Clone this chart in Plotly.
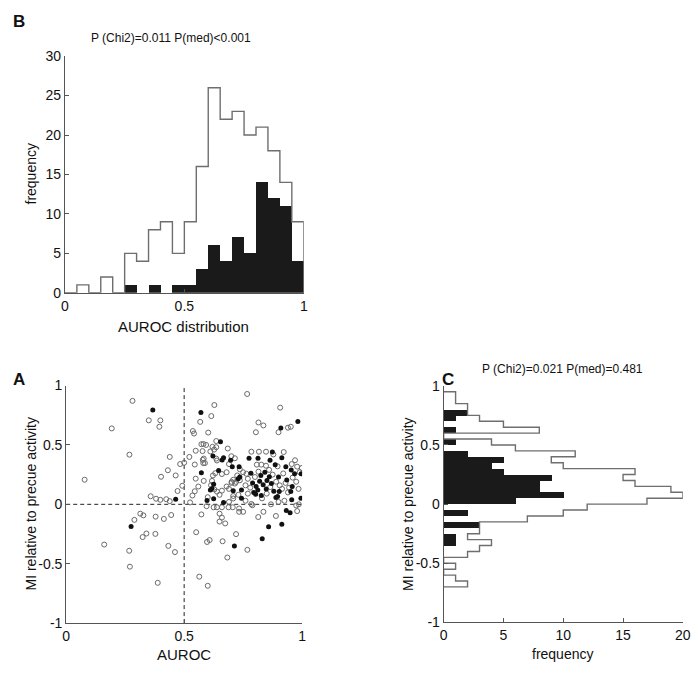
import plotly.graph_objects as go

# ---------------- data ----------------
# Panel B: AUROC histogram (bin centres, all cells, significant cells)
auroc_bin_centers = [0.025, 0.075, 0.125, 0.175, 0.225, 0.275, 0.325, 0.375, 0.425, 0.475,
                     0.525, 0.575, 0.625, 0.675, 0.725, 0.775, 0.825, 0.875, 0.925, 0.975]
auroc_all_counts = [0, 1, 0, 2, 0, 5, 4, 8, 9, 5, 9, 16, 26, 22, 23, 20, 21, 18, 14, 9]
auroc_sig_counts = [0, 0, 0, 0, 0, 1, 0, 1, 0, 1, 1, 3, 6, 4, 7, 5, 14, 12, 11, 4]
auroc_bin_width = 0.05

# Panel C: MI histogram (bin centres, all cells, significant cells)
mi_bin_centers = [-0.675, -0.625, -0.575, -0.525, -0.475, -0.425, -0.375, -0.325, -0.275, -0.225,
                  -0.175, -0.125, -0.075, -0.025, 0.025, 0.075, 0.125, 0.175, 0.225, 0.275,
                  0.325, 0.375, 0.425, 0.475, 0.525, 0.575, 0.625, 0.675, 0.725, 0.775,
                  0.825, 0.875, 0.925]
mi_all_counts = [2, 1, 0, 1, 0, 2, 3, 4, 2, 3, 3, 7, 10, 12, 17, 20, 19, 16, 15, 16,
                 10, 9, 11, 6, 4, 0, 8, 5, 3, 2, 2, 1, 1]
mi_sig_counts = [0, 0, 0, 0, 0, 0, 0, 1, 1, 0, 3, 0, 2, 0, 6, 10, 8, 8, 9, 5,
                 4, 5, 2, 0, 1, 0, 1, 0, 1, 2, 0, 0, 0]
mi_bin_width = 0.05

# Panel A: scatter (AUROC vs MI), non-significant (open) and significant (filled)
open_auroc = [0.281, 0.350, 0.399, 0.395, 0.193, 0.268, 0.439, 0.483, 0.500, 0.431, 0.464, 0.402,
              0.078, 0.492, 0.472, 0.358, 0.381, 0.399, 0.424, 0.439, 0.314, 0.327, 0.379, 0.445,
              0.414, 0.289, 0.340, 0.378, 0.324, 0.161, 0.433, 0.267, 0.461, 0.270, 0.388,
              0.767, 0.628, 0.907, 0.615, 0.568, 0.815, 0.836, 0.940, 0.952, 0.900, 0.804, 0.537,
              0.542, 0.602, 0.636, 0.573, 0.582, 0.593, 0.620, 0.636, 0.685, 0.549, 0.578, 0.611,
              0.627, 0.785, 0.817, 0.847, 0.922,
              0.522, 0.545, 0.583, 0.581, 0.579, 0.588, 0.636, 0.639, 0.690, 0.715, 0.700, 0.808,
              0.827, 0.847, 0.878, 0.956, 0.970, 0.999, 0.979, 0.896,
              0.549, 0.632, 0.622, 0.660, 0.680, 0.736, 0.750, 0.725, 0.764, 0.708, 0.720, 0.701,
              0.583, 0.618, 0.614, 0.628, 0.639, 0.660, 0.701, 0.715, 0.736, 0.680, 0.690, 0.760,
              0.770, 0.780, 0.800, 0.815, 0.860, 0.875, 0.890, 0.905, 0.920, 0.930, 0.945, 0.960,
              0.975, 0.985, 0.990, 0.940, 0.915, 0.865, 0.850, 0.830, 0.770, 0.760, 0.730, 0.708,
              0.708, 0.690, 0.650, 0.560, 0.545,
              0.535, 0.600, 0.595, 0.573, 0.625, 0.639, 0.660, 0.688, 0.706, 0.650, 0.660, 0.650,
              0.674, 0.733, 0.733, 0.750, 0.785, 0.789, 0.814, 0.836, 0.889, 0.979, 0.868, 0.986,
              0.900, 0.925, 0.975, 0.525,
              0.551, 0.597, 0.608, 0.663, 0.720, 0.683, 0.768, 0.564, 0.600]
open_mi = [0.871, 0.707, 0.707, 0.653, 0.639, 0.418, 0.399, 0.339, 0.350, 0.287, 0.243, 0.232,
           0.207, 0.156, 0.112, 0.068, 0.047, 0.038, 0.043, 0.027, -0.079, -0.093, -0.104, -0.090,
           -0.123, -0.131, -0.246, -0.249, -0.276, -0.339, -0.350, -0.391, -0.402, -0.525, -0.661,
           0.929, 0.836, 0.814, 0.743, 0.694, 0.689, 0.664, 0.645, 0.653, 0.607, 0.607, 0.617,
           0.596, 0.604, 0.533, 0.506, 0.508, 0.500, 0.484, 0.481, 0.470, 0.451, 0.448, 0.445,
           0.461, 0.443, 0.443, 0.443, 0.440,
           0.399, 0.335, 0.385, 0.347, 0.374, 0.347, 0.385, 0.369, 0.339, 0.388, 0.405, 0.334,
           0.334, 0.325, 0.420, 0.339, 0.371, 0.306, 0.317, 0.320,
           0.216, 0.262, 0.243, 0.255, 0.270, 0.295, 0.270, 0.243, 0.257, 0.207, 0.189, 0.180,
           0.197, 0.197, 0.161, 0.125, 0.107, 0.115, 0.189, 0.175, 0.202, 0.150, 0.130, 0.160,
           0.215, 0.140, 0.230, 0.275, 0.290, 0.250, 0.190, 0.160, 0.260, 0.180, 0.140, 0.225,
           0.190, 0.130, 0.270, 0.100, 0.130, 0.145, 0.090, 0.050, 0.090, 0.030, 0.080, 0.049,
           0.070, 0.020, 0.080, 0.150, 0.110,
           0.074, 0.060, -0.016, -0.085, -0.025, -0.025, -0.025, -0.025, -0.025, -0.079, -0.112,
           -0.145, -0.161, -0.035, -0.063, -0.063, 0.003, -0.008, -0.107, -0.063, -0.098, -0.057,
           0.000, 0.000, 0.020, 0.030, -0.010, 0.016,
           -0.235, -0.317, -0.301, -0.311, -0.251, -0.448, -0.383, -0.609, -0.686]
sig_auroc = [0.367, 0.464, 0.275,
             0.571, 0.982, 0.910, 0.654, 0.874,
             0.622, 0.667, 0.775, 0.813, 0.864, 0.914, 0.661, 0.697,
             0.886, 0.931, 0.954, 0.968, 0.996, 0.704, 0.733,
             0.573, 0.646, 0.736, 0.783, 0.825, 0.842, 0.861, 0.851, 0.900, 0.935,
             0.625, 0.618, 0.611, 0.708, 0.743, 0.729,
             0.790, 0.805, 0.820, 0.835, 0.812, 0.848, 0.870, 0.880, 0.795,
             0.896, 0.903, 0.952, 0.956, 0.995, 0.958,
             0.597, 0.667, 0.625, 0.743, 0.803, 0.827, 0.889,
             0.933, 0.949, 0.858, 0.914, 0.713, 0.831]
sig_mi = [0.795, 0.043, -0.186,
          0.773, 0.697, 0.642, 0.527, 0.440,
          0.407, 0.393, 0.388, 0.388, 0.371, 0.393, 0.374, 0.371,
          0.333, 0.317, 0.289, 0.257, 0.257, 0.317, 0.317,
          0.265, 0.284, 0.230, 0.262, 0.243, 0.271, 0.232, 0.200, 0.230, 0.205,
          0.170, 0.134, 0.120, 0.115, 0.120, 0.216,
          0.180, 0.150, 0.195, 0.165, 0.120, 0.130, 0.175, 0.110, 0.100,
          0.066, 0.107, 0.107, 0.038, 0.052, 0.150,
          0.033, 0.016, 0.047, 0.052, 0.084, 0.074, 0.057,
          -0.052, -0.071, -0.189, -0.167, -0.350, -0.290]

# ---------------- helpers ----------------
W, H = 700, 676
FONT = "Liberation Sans, Arial, Helvetica, sans-serif"
AX = "#555555"
OUTLINE = "#6e6e6e"


def xdom(a, b):
    return [a / W, b / W]


def ydom(top, bottom):
    return [1 - bottom / H, 1 - top / H]


def step_path(centers, counts, width):
    """Outline of a histogram: positions along the bin axis and counts."""
    pos, val = [centers[0] - width / 2], [0]
    for c, n in zip(centers, counts):
        pos += [c - width / 2, c + width / 2]
        val += [n, n]
    pos.append(centers[-1] + width / 2)
    val.append(0)
    return pos, val


fig = go.Figure()

# ---- Panel B ----
fig.add_trace(go.Bar(x=auroc_bin_centers, y=auroc_sig_counts, width=auroc_bin_width,
                     marker=dict(color="#1a1a1a", line=dict(width=0)),
                     xaxis="x", yaxis="y", showlegend=False))
bx, by = step_path(auroc_bin_centers, auroc_all_counts, auroc_bin_width)
fig.add_trace(go.Scatter(x=bx, y=by, mode="lines", line=dict(color=OUTLINE, width=1.4),
                         xaxis="x", yaxis="y", showlegend=False))

# ---- Panel A ----
fig.add_trace(go.Scatter(x=[0.5, 0.5], y=[-1, 1], mode="lines",
                         line=dict(color="#222", width=1, dash="4px,3px"),
                         xaxis="x2", yaxis="y2", showlegend=False))
fig.add_trace(go.Scatter(x=[0, 1], y=[0, 0], mode="lines",
                         line=dict(color="#222", width=1, dash="4px,3px"),
                         xaxis="x2", yaxis="y2", showlegend=False))
fig.add_trace(go.Scatter(x=open_auroc, y=open_mi, mode="markers",
                         marker=dict(symbol="circle-open", size=5, color="#6a6a6a",
                                     line=dict(width=1)),
                         xaxis="x2", yaxis="y2", showlegend=False))
fig.add_trace(go.Scatter(x=sig_auroc, y=sig_mi, mode="markers",
                         marker=dict(symbol="circle", size=5, color="#111"),
                         xaxis="x2", yaxis="y2", showlegend=False))

# ---- Panel C ----
fig.add_trace(go.Bar(y=mi_bin_centers, x=mi_sig_counts, width=mi_bin_width, orientation="h",
                     marker=dict(color="#1a1a1a", line=dict(width=0)),
                     xaxis="x3", yaxis="y3", showlegend=False))
cy, cx = step_path(mi_bin_centers, mi_all_counts, mi_bin_width)
fig.add_trace(go.Scatter(x=cx, y=cy, mode="lines", line=dict(color=OUTLINE, width=1.4),
                         xaxis="x3", yaxis="y3", showlegend=False))

axis_common = dict(showgrid=False, zeroline=False, showline=True, linecolor=AX, linewidth=1,
                   ticks="inside", ticklen=4, tickcolor=AX, tickwidth=1,
                   tickfont=dict(family=FONT, size=14, color="#111"), mirror=False)

fig.update_layout(
    width=W, height=H, margin=dict(l=0, r=0, t=0, b=0),
    paper_bgcolor="white", plot_bgcolor="white", bargap=0,
    font=dict(family=FONT, color="#111"),
    xaxis=dict(domain=xdom(62, 305), range=[0, 1], tickvals=[0, 0.5, 1],
               ticktext=["0", "0.5", "1"], anchor="y", **axis_common),
    yaxis=dict(domain=ydom(49.3, 291.7), range=[0, 30], tickvals=[0, 5, 10, 15, 20, 25, 30],
               anchor="x", **axis_common),
    xaxis2=dict(domain=xdom(63.3, 303.3), range=[0, 1], tickvals=[0, 0.5, 1],
                ticktext=["0", "0.5", "1"], anchor="y2", **axis_common),
    yaxis2=dict(domain=ydom(386.7, 630), range=[-1, 1], tickvals=[-1, -0.5, 0, 0.5, 1],
                ticktext=["-1", "-0.5", "0", "0.5", "1"], anchor="x2", **axis_common),
    xaxis3=dict(domain=xdom(447.3, 690.7), range=[0, 20], tickvals=[0, 5, 10, 15, 20],
                anchor="y3", **axis_common),
    yaxis3=dict(domain=ydom(387, 629.3), range=[-1, 1], tickvals=[-1, -0.5, 0, 0.5, 1],
                ticktext=["-1", "-0.5", "0", "0.5", "1"], anchor="x3", **axis_common),
)


def label(text, x, y, size=14, angle=0, bold=False):
    fig.add_annotation(text=f"<b>{text}</b>" if bold else text,
                       x=x / W, y=1 - y / H,
                       xref="paper", yref="paper", showarrow=False, textangle=angle,
                       font=dict(family=FONT, size=size, color="#111"),
                       xanchor="center", yanchor="middle")


label("B", 15, 14, size=17, bold=True)
label("P (Chi2)=0.011 P(med)<0.001", 170, 31, size=12)
label("frequency", 27, 170, angle=-90)
label("AUROC distribution", 183, 326, size=15)

label("A", 15, 381, size=17, bold=True)
label("MI relative to precue activity", 27, 508, angle=-90)
label("AUROC", 183, 662, size=15)

label("C", 452, 381, size=17, bold=True)
label("P (Chi2)=0.021 P(med)=0.481", 568, 370, size=12)
label("MI relative to precue activity", 411, 508, angle=-90)
label("frequency", 568, 662)

# remove the default page margin so the 700x676 figure fills the window exactly
fig.write_html("out.html",
               config={"displayModeBar": False},
               post_script="document.body.style.margin='0';"
                           "document.body.style.overflow='hidden';")
